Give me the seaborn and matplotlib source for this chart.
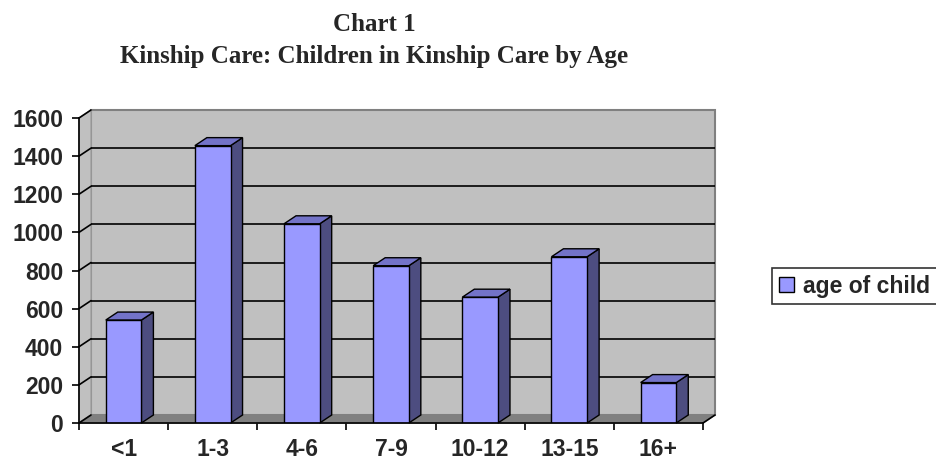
import matplotlib
matplotlib.use("Agg")
import matplotlib.pyplot as plt
import seaborn as sns
import numpy as np
from matplotlib.patches import Polygon, Patch
from matplotlib.ticker import FixedLocator

categories = ["<1", "1-3", "4-6", "7-9", "10-12", "13-15", "16+"]
values = [540, 1455, 1045, 825, 660, 872, 212]
yticks = [0, 200, 400, 600, 800, 1000, 1200, 1400, 1600]
series_name = "age of child"
title_line1 = "Chart 1"
title_line2 = "Kinship Care: Children in Kinship Care by Age"

sns.set_style("white")
plt.rcParams["font.family"] = ["Liberation Sans", "DejaVu Sans"]

W, H = 937, 462
fig = plt.figure(figsize=(W / 100, H / 100), dpi=100)
ax_l, ax_r, ax_b, ax_t = 79, 703, 423, 118
ax = fig.add_axes([ax_l / W, (H - ax_b) / H, (ax_r - ax_l) / W, (ax_b - ax_t) / H])

YMAX = 1600
XMIN, XMAX = -0.5, len(categories) - 0.5
# depth offsets (pixels -> data)
dxp, dyp = 12, 8
dx = dxp * (XMAX - XMIN) / (ax_r - ax_l)
dy = dyp * YMAX / (ax_b - ax_t)

sns.barplot(x=categories, y=values, color="#9999FF", width=0.4, edgecolor="black",
            linewidth=1, saturation=1, ax=ax, zorder=5)
bars = list(ax.patches)
ax.set_xlim(XMIN, XMAX)
ax.set_ylim(0, YMAX)

# back wall, side wall, floor
wall = Polygon([(XMIN + dx, dy), (XMAX + dx, dy), (XMAX + dx, YMAX + dy), (XMIN + dx, YMAX + dy)],
               closed=True, facecolor="#C0C0C0", edgecolor="#808080", linewidth=1.5,
               clip_on=False, zorder=0)
side = Polygon([(XMIN, 0), (XMIN + dx, dy), (XMIN + dx, YMAX + dy), (XMIN, YMAX)],
               closed=True, facecolor="#C0C0C0", edgecolor="#A0A0A0", linewidth=1,
               clip_on=False, zorder=0.5)
floor = Polygon([(XMIN, 0), (XMAX, 0), (XMAX + dx, dy), (XMIN + dx, dy)],
                closed=True, facecolor="#808080", edgecolor="#808080", linewidth=1,
                clip_on=False, zorder=1)
for p in (wall, side, floor):
    ax.add_patch(p)

# gridlines on walls
for t in yticks[1:-1]:
    ax.plot([XMIN + dx, XMAX + dx], [t + dy, t + dy], color="black", lw=1.2,
            zorder=2, clip_on=False, solid_capstyle="butt")
for t in yticks:
    ax.plot([XMIN, XMIN + dx], [t, t + dy], color="black", lw=1.2, zorder=2, clip_on=False)

# 3D faces of bars
for b in bars:
    x0 = b.get_x()
    x1 = x0 + b.get_width()
    h = b.get_height()
    sidep = Polygon([(x1, 0), (x1 + dx, dy), (x1 + dx, h + dy), (x1, h)], closed=True,
                    facecolor="#4D4D80", edgecolor="black", linewidth=1, zorder=4, clip_on=False)
    topp = Polygon([(x0, h), (x1, h), (x1 + dx, h + dy), (x0 + dx, h + dy)], closed=True,
                   facecolor="#7373C8", edgecolor="black", linewidth=1, zorder=4, clip_on=False)
    ax.add_patch(sidep)
    ax.add_patch(topp)

# right diagonal of floor edge
ax.plot([XMAX, XMAX + dx], [0, dy], color="black", lw=1.2, zorder=6, clip_on=False)

for s in ("top", "right"):
    ax.spines[s].set_visible(False)
for s in ("left", "bottom"):
    ax.spines[s].set_color("black")
    ax.spines[s].set_linewidth(1.2)
    ax.spines[s].set_zorder(6)
ax.set_facecolor("none")

ax.set_yticks(yticks)
ax.set_yticklabels([str(t) for t in yticks], fontsize=16.5, fontweight="bold")
ax.tick_params(axis="y", direction="out", length=5, width=1.2, color="black", pad=6.5, left=True)
ax.set_xticks(range(len(categories)))
ax.set_xticklabels(categories, fontsize=16.5, fontweight="bold")
ax.tick_params(axis="x", which="major", length=0, pad=11)
ax.xaxis.set_minor_locator(FixedLocator(np.arange(XMIN, XMAX + 0.01, 1)))
ax.tick_params(axis="x", which="minor", direction="out", length=5, width=1.2, color="black", bottom=True)
ax.set_xlabel("")
ax.set_ylabel("")

serif = ["Liberation Serif", "DejaVu Serif"]
fig.text(374 / W, 1 - 31 / H, title_line1, ha="center", va="baseline", fontsize=18,
         fontweight="bold", family=serif)
fig.text(374 / W, 1 - 63 / H, title_line2, ha="center", va="baseline", fontsize=18,
         fontweight="bold", family=serif)

handle = Patch(facecolor="#9999FF", edgecolor="black", linewidth=1)
leg = fig.legend(handles=[handle], labels=[series_name], loc="center left",
                 bbox_to_anchor=(772 / W, 1 - 286 / H), frameon=True, fancybox=False,
                 prop={"weight": "bold", "size": 16.5}, handlelength=0.65, handleheight=0.65,
                 handletextpad=0.4, borderpad=0.3, borderaxespad=0)
leg.get_frame().set_edgecolor("black")
leg.get_frame().set_linewidth(1.2)

fig.savefig("out.png", dpi=100)
